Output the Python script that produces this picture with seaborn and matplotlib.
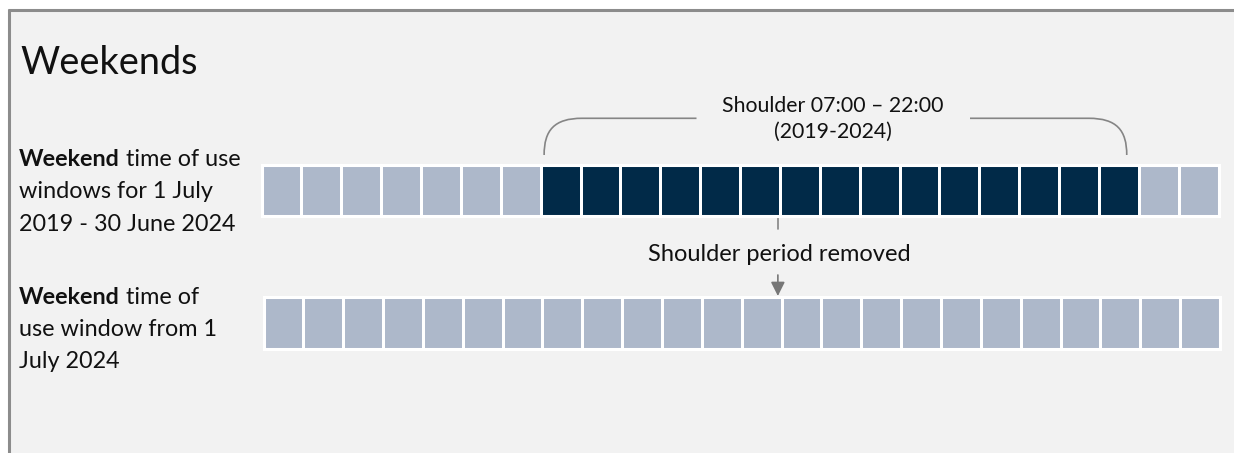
import matplotlib
matplotlib.use("Agg")
import matplotlib.pyplot as plt
from matplotlib.colors import ListedColormap
from matplotlib.path import Path
from matplotlib.patches import PathPatch, Rectangle
import numpy as np
import pandas as pd
import seaborn as sns

# ---------------- data ----------------
hours = list(range(24))
# 0 = off-peak (light), 1 = shoulder (dark)
period_2019_2024 = [0, 0, 0, 0, 0, 0, 0, 1, 1, 1, 1, 1, 1, 1, 1, 1, 1, 1, 1, 1, 1, 1, 0, 0]
period_from_2024 = [0, 0, 0, 0, 0, 0, 0, 0, 0, 0, 0, 0, 0, 0, 0, 0, 0, 0, 0, 0, 0, 0, 0, 0]
shoulder_start, shoulder_end = 7, 22
title = "Weekends"
bracket_lines = ["Shoulder 07:00 \u2013 22:00", "(2019-2024)"]
removed_label = "Shoulder period removed"

# ---------------- style ----------------
sns.set_theme(style="white")
plt.rcParams["font.family"] = ["Lato", "DejaVu Sans"]

LIGHT = "#ADB8CA"
DARK = "#012A48"
BG = "#F2F2F2"
FRAME = "#8C8C8C"
LINE = "#858585"
TXT = "#111111"

W, H = 1234, 453
fig = plt.figure(figsize=(W / 100, H / 100), dpi=100, facecolor="white")

# overlay axes in pixel coordinates (background + annotations)
ov = fig.add_axes([0, 0, 1, 1], zorder=0)
ov.set_xlim(0, W)
ov.set_ylim(H, 0)
ov.axis("off")
ov.add_patch(Rectangle((8, 9), W, H, facecolor=BG, edgecolor="none"))
ov.plot([8, W], [9.5, 9.5], color=FRAME, lw=2.2, solid_capstyle="butt")
ov.plot([8.5, 8.5], [9, H], color=FRAME, lw=2.2, solid_capstyle="butt")

cmap = ListedColormap([LIGHT, DARK])


def row_axes(x0, x1, ytop, ybot, values):
    ax = fig.add_axes([x0 / W, 1 - ybot / H, (x1 - x0) / W, (ybot - ytop) / H], zorder=1)
    df = pd.DataFrame([values], columns=hours)
    sns.heatmap(df, ax=ax, cmap=cmap, vmin=0, vmax=1, cbar=False,
                linewidths=1.9, linecolor="white",
                xticklabels=False, yticklabels=False)
    for s in ax.spines.values():
        s.set_visible(True)
        s.set_color("white")
        s.set_linewidth(2.2)
    ax.set_xlabel("")
    ax.set_ylabel("")
    return ax


top_x0, top_x1 = 261.5, 1218.5
bot_x0, bot_x1 = 263.5, 1220.0
ax1 = row_axes(top_x0, top_x1, 164.5, 215.5, period_2019_2024)
ax2 = row_axes(bot_x0, bot_x1, 296.5, 348.5, period_from_2024)


def hx(h, x0=top_x0, x1=top_x1):
    return x0 + (x1 - x0) * h / 24.0


# title
ov.text(20, 73.5, title, fontsize=27.3, color=TXT, va="baseline", ha="left")

LBL = 16.8


def label(lines, base_y):
    t = ov.text(19, base_y, "Weekend", fontsize=LBL, fontweight="bold", color=TXT,
                va="baseline", ha="left")
    ov.annotate(lines[0], xy=(1, 0), xycoords=t, xytext=(0, 0), textcoords="offset points",
                fontsize=LBL, color=TXT, va="bottom", ha="left")
    for i, ln in enumerate(lines[1:], start=1):
        ov.text(19, base_y + 32.5 * i, ln, fontsize=LBL, color=TXT, va="baseline", ha="left")


label([" time of use", "windows for 1 July", "2019 - 30 June 2024"], 166)
label([" time of", "use window from 1", "July 2024"], 303.5)

# bracket over the shoulder period
xl = hx(shoulder_start) + 3.5
xr = hx(shoulder_end) - 12
xc = 833
ytop, ybot = 118.3, 155
gap_l, gap_r = 696.5, 970
verts = [(xl, ybot), (xl, ytop + 12), (xl + 10, ytop), (xl + 38, ytop), (gap_l, ytop)]
codes = [Path.MOVETO, Path.CURVE4, Path.CURVE4, Path.CURVE4, Path.LINETO]
ov.add_patch(PathPatch(Path(verts, codes), fill=False, edgecolor=LINE, lw=1.2))
verts = [(gap_r, ytop), (xr - 38, ytop), (xr - 10, ytop), (xr, ytop + 12), (xr, ybot)]
codes = [Path.MOVETO, Path.LINETO, Path.CURVE4, Path.CURVE4, Path.CURVE4]
ov.add_patch(PathPatch(Path(verts, codes), fill=False, edgecolor=LINE, lw=1.2))
ov.text(xc, 111.5, bracket_lines[0], fontsize=15.3, color=TXT, ha="center", va="baseline")
ov.text(xc, 137.5, bracket_lines[1], fontsize=15.3, color=TXT, ha="center", va="baseline")

# removed marker
xm = hx(13) - 2
ov.plot([xm, xm], [216, 229], color=LINE, lw=1.2)
ov.text(779.5, 261, removed_label, fontsize=17, color=TXT, ha="center", va="baseline")
ov.annotate("", xy=(xm, 296), xytext=(xm, 275),
            arrowprops=dict(arrowstyle="-|>,head_width=0.35,head_length=0.7",
                            color="#777777", lw=1.2, shrinkA=0, shrinkB=0))

fig.savefig("out.png", dpi=100, facecolor="white")
